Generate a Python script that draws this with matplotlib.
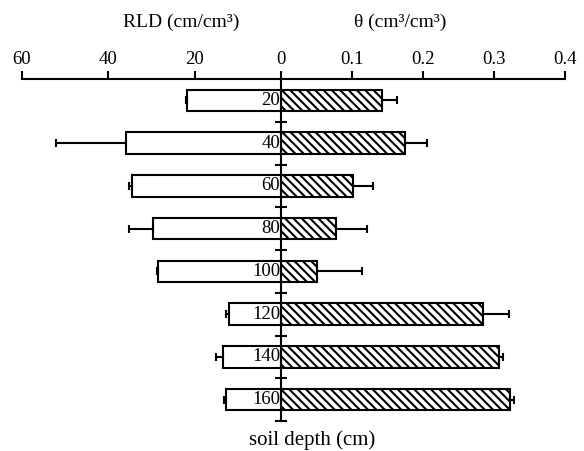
import numpy as np
import matplotlib.pyplot as plt

plt.rcParams['font.family'] = 'Liberation Serif'
plt.rcParams['hatch.linewidth'] = 1.5

depth = [20, 40, 60, 80, 100, 120, 140, 160]
rld = [21.8, 35.9, 34.5, 29.6, 28.5, 12.0, 13.5, 12.7]
rld_err = [0.3, 16.2, 0.7, 5.6, 0.3, 0.8, 1.5, 0.5]
theta = [0.142, 0.175, 0.101, 0.077, 0.050, 0.285, 0.307, 0.322]
theta_err = [0.021, 0.030, 0.028, 0.044, 0.064, 0.036, 0.005, 0.006]

fig = plt.figure(figsize=(5.84, 4.51), dpi=100)
bottom, top = 1 - 421 / 451, 1 - 79 / 451
xl, xm, xr = 22 / 584, 281 / 584, 565 / 584
axl = fig.add_axes([xl, bottom, xm - xl, top - bottom])
axr = fig.add_axes([xm, bottom, xr - xm, top - bottom])

zeros = np.zeros(len(depth))
err_kw = dict(ecolor='black', elinewidth=1.5, capsize=3, capthick=1.5)

axl.barh(depth, rld, height=10, color='white', edgecolor='black', linewidth=1.5,
         xerr=[zeros, rld_err], error_kw=err_kw, zorder=2)
axr.barh(depth, theta, height=10, color='white', edgecolor='black', linewidth=1.5,
         hatch='\\\\\\\\', xerr=[zeros, theta_err], error_kw=err_kw, zorder=2)

for d in depth:
    axl.text(0.2, d, str(d), ha='right', va='center', fontsize=13.5, zorder=5)

axl.set_xlim(60, 0)
axr.set_xlim(0, 0.4)
for ax in (axl, axr):
    ax.set_ylim(170, 10)
    ax.patch.set_visible(False)
    for s in ('bottom', 'right', 'left'):
        ax.spines[s].set_visible(False)
    ax.spines['top'].set_linewidth(1.5)
    ax.xaxis.tick_top()
    ax.tick_params(axis='x', direction='out', length=6, width=1.5, pad=2, labelsize=13.5)

axl.set_yticks([])
axl.set_xticks([60, 40, 20, 0])

axr.set_xticks([0.1, 0.2, 0.3, 0.4])
axr.set_xticklabels(['0.1', '0.2', '0.3', '0.4'])
axr.spines['left'].set_visible(True)
axr.spines['left'].set_linewidth(1.5)
axr.spines['left'].set_zorder(6)
axr.set_yticks([30, 50, 70, 90, 110, 130, 150, 170])
axr.set_yticklabels([])
axr.tick_params(axis='y', direction='inout', length=8, width=1.5)

fig.text(181 / 584, 1 - 22 / 451, 'RLD (cm/cm³)', ha='center', va='center', fontsize=14)
fig.text(400 / 584, 1 - 22 / 451, 'θ (cm³/cm³)', ha='center', va='center', fontsize=14)
fig.text(312 / 584, 1 - 440 / 451, 'soil depth (cm)', ha='center', va='center', fontsize=15)

fig.savefig('out.png', dpi=100)
